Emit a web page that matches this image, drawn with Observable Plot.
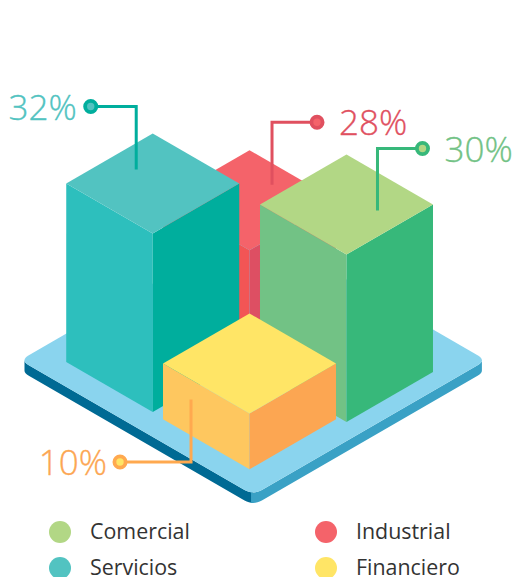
<!DOCTYPE html>
<html lang="es">
<head>
<meta charset="utf-8">
<title>Sectores</title>
<script src="https://cdn.jsdelivr.net/npm/d3@7"></script>
<script src="https://cdn.jsdelivr.net/npm/@observablehq/plot@0.6"></script>
<style>
  html, body { margin: 0; padding: 0; background: #fff; overflow: hidden; height: 577px; }
  #chart svg { display: block; }
  #legend { display: grid; grid-template-columns: 266px 1fr; grid-auto-rows: 36px; padding-left: 49px;
            font: 21.4px "Open Sans", sans-serif; color: #333; }
  #legend div { display: flex; align-items: center; }
  #legend i { width: 22px; height: 22px; border-radius: 50%; margin-right: 19px; flex: none; }
  #legend span { position: relative; top: -1.5px; }
</style>
</head>
<body>
<div id="chart"></div>
<div id="legend"></div>
<script>
// Sector shares, in percent
const categories = ["Servicios", "Industrial", "Comercial", "Financiero"];
const values = [32, 28, 30, 10];
const legendOrder = ["Comercial", "Industrial", "Servicios", "Financiero"];

// Face colours per sector: top, left wall, right wall, leader line
const palette = {
  Servicios:  {top: "#52c3c1", left: "#2dbfbd", right: "#00ae9d", lead: "#00ae9d", text: "#52c3c1"},
  Industrial: {top: "#f4636a", left: "#f25555", right: "#dd4f63", lead: "#e0505f", text: "#e0505f"},
  Comercial:  {top: "#b2d785", left: "#72c285", right: "#37b87a", lead: "#37b87a", text: "#72c285"},
  Financiero: {top: "#ffe566", left: "#fec75f", right: "#fca652", lead: "#ffa94f", text: "#fca652"}
};

// Isometric layout: one ground unit spans 86.5px across and 50px down
const W = 513, H = 514;
const ux = 86.5, uy = 50, perPercent = 5.58;
const originX = 251.7, originY = 225;
const plateSize = 2.694, plateRound = 0.1, plateDepth = 10.5, plateShiftX = 1 / ux;

// Where each block stands on the plate (ground units), and its leader line in px
const footprints = {
  Servicios:  {u: 0.29,   v: 1.44},
  Industrial: {u: 0.7945, v: 0.8255},
  Comercial:  {u: 1.509,  v: 0.419},
  Financiero: {u: 1.4225, v: 1.4535}
};
const leaders = {
  Servicios:  {tipX: -16.5, tipY: -14, rise: 63,    run: -45.5, labelDx: -14, anchor: "end"},
  Industrial: {tipX: 22.5,  tipY: -15.5, rise: 62.5,  run: 45,    labelDx: 22,  anchor: "start"},
  Comercial:  {tipX: 31,    tipY: 6,   rise: 62,    run: 45,    labelDx: 22,  anchor: "start"},
  Financiero: {tipX: -58.5, tipY: 36,  rise: -62.5, run: -71,   labelDx: -13, anchor: "end"}
};

// Ground position plus height (in percent) to plot coordinates
const project = (u, v, pct = 0) => ({x: u - v, y: u + v - pct * perPercent / uy});

// Rounded outline of the plate, walked right corner, front, left, back
const plate = [];
const SAMPLES = 8;
{
  const P = plateSize, r = plateRound;
  const corners = [
    [[P - r, 0], [P, 0], [P, r]],
    [[P, P - r], [P, P], [P - r, P]],
    [[r, P], [0, P], [0, P - r]],
    [[0, r], [0, 0], [r, 0]]
  ];
  for (const [a, c, b] of corners) {
    for (let i = 0; i <= SAMPLES; ++i) {
      const t = i / SAMPLES, s = 1 - t;
      const p = project(s * s * a[0] + 2 * s * t * c[0] + t * t * b[0],
                        s * s * a[1] + 2 * s * t * c[1] + t * t * b[1]);
      plate.push({x: p.x + plateShiftX, y: p.y});
    }
  }
}
const drop = plateDepth / uy;
const perCorner = SAMPLES + 1, mid = SAMPLES / 2;
const rightExtreme = mid, wallSplit = perCorner + mid + 1, leftExtreme = 2 * perCorner + mid;
// A wall is the outer rim swept straight down by the plate's thickness
const wall = (from, to, id, fill) => {
  const rim = plate.slice(from, to + 1);
  return [...rim, ...rim.slice().reverse().map(p => ({x: p.x, y: p.y + drop}))].map(p => ({...p, id, fill}));
};
const plateFaces = [
  ...wall(wallSplit - 1, leftExtreme, "side-l", "#006a94"),
  ...wall(rightExtreme, wallSplit, "side-r", "#3aa1c5"),
  ...plate.map(p => ({...p, id: "plate", fill: "#8ad4ee"}))
];

// Back-to-front painting order
const paintOrder = ["Industrial", "Servicios", "Comercial", "Financiero"];
const valueOf = name => values[categories.indexOf(name)];

function blockFaces(name) {
  const {u, v} = footprints[name], c = palette[name], h = valueOf(name);
  const poly = (id, fill, pts) => pts.map(([a, b, z]) => ({...project(u + a, v + b, z), id: name + id, fill}));
  return [
    ...poly("L", c.left,  [[0, 1, h], [1, 1, h], [1, 1, 0], [0, 1, 0]]),
    ...poly("R", c.right, [[1, 0, h], [1, 1, h], [1, 1, 0], [1, 0, 0]]),
    ...poly("T", c.top,   [[0, 0, h], [1, 0, h], [1, 1, h], [0, 1, h]])
  ];
}

function leaderPath(name) {
  const {u, v} = footprints[name], h = valueOf(name), l = leaders[name];
  const centre = project(u + 0.5, v + 0.5, h);
  const tip = {x: centre.x + l.tipX / ux, y: centre.y + l.tipY / uy};
  const elbow = {x: tip.x, y: tip.y - l.rise / uy};
  const head = {x: elbow.x + l.run / ux, y: elbow.y};
  return {name, tip, elbow, head, ...l, label: h + "%", c: palette[name]};
}
const leaderRows = paintOrder.map(leaderPath);

const faceLine = rows => Plot.line(rows, {x: "x", y: "y", z: "id", fill: "fill", stroke: "none"});

const chart = Plot.plot({
  width: W, height: H, margin: 0,
  x: {domain: [-originX / ux, (W - originX) / ux], range: [0, W], axis: null},
  y: {domain: [-originY / uy, (H - originY) / uy], range: [0, H], axis: null},
  color: {type: "identity"},
  marks: [
    faceLine(plateFaces),
    ...paintOrder.map(name => faceLine(blockFaces(name))),
    ...leaderRows.flatMap(d => [
      Plot.line([d.tip, d.elbow, d.head], {
        x: "x", y: "y", stroke: d.c.lead, strokeWidth: 3,
        strokeLinejoin: "miter", strokeMiterlimit: 4, strokeLinecap: "butt"
      }),
      Plot.dot([d.head], {x: "x", y: "y", r: 5.6, stroke: d.c.lead, strokeWidth: 3.8, fill: d.c.top}),
      Plot.text([d.head], {
        x: "x", y: "y", text: () => d.label, dx: d.labelDx, dy: 2,
        textAnchor: d.anchor, fill: d.c.text, fontSize: 35, fontWeight: 300,
        stroke: d.c.text, strokeWidth: 0.35, fontFamily: "'Open Sans', sans-serif"
      })
    ])
  ]
});
document.getElementById("chart").append(chart);

// Legend below the plot
const legend = d3.select("#legend");
for (const name of legendOrder) {
  const row = legend.append("div");
  row.append("i").style("background", palette[name].top);
  row.append("span").text(name);
}
</script>
</body>
</html>
